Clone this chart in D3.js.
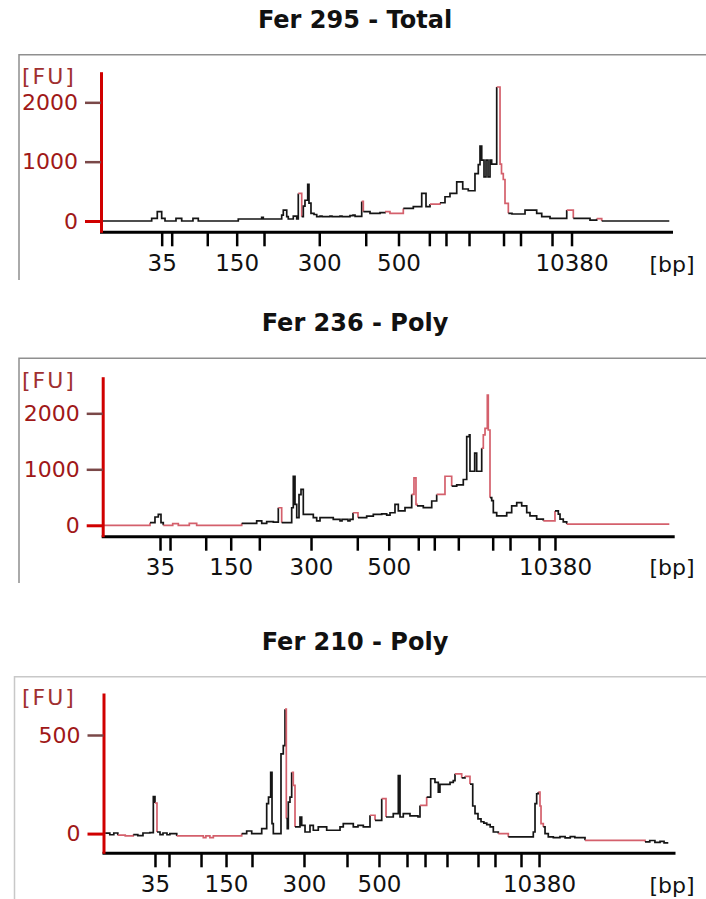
<!DOCTYPE html>
<html>
<head>
<meta charset="utf-8">
<script src="https://cdn.jsdelivr.net/npm/d3@7"></script>
<style>
  body { margin: 0; background: #fff; }
  svg { display: block; font-family: "DejaVu Sans", Verdana, sans-serif; }
</style>
</head>
<body>
<script>
// ladder sizes (bp) and which of them get a label
const ladderBp = [35, 50, 100, 150, 200, 300, 400, 500, 600, 700, 1000, 2000, 3000, 7000, 10380];
const labeledBp = [35, 150, 300, 500, 10380];

const titles = ["Fer 295 - Total", "Fer 236 - Poly", "Fer 210 - Poly"];

// migration position of each ladder band, per run (0-100 scale)
const ladder1 = [10.61, 12.36, 18.58, 23.72, 28.50, 38.16, 46.28, 52.01, 57.40, 60.31, 64.34, 70.37, 73.34, 78.85, 82.26];
const ladder2 = [10.02, 11.77, 18.01, 22.38, 27.38, 36.42, 44.51, 50.00, 55.17, 57.97, 62.17, 68.18, 71.21, 76.28, 79.07];
const ladder3 = [9.00, 11.45, 17.05, 21.42, 25.96, 35.05, 42.57, 48.16, 53.06, 56.21, 60.05, 65.47, 68.44, 72.99, 76.14];

const yTicks1 = [0, 1000, 2000];
const yTicks2 = [0, 1000, 2000];
const yTicks3 = [0, 500];

// Fer 295 - Total
const time1 = [0, 8.86, 9.84, 10.61, 11.19, 13.11, 14.11, 16.08, 17.01, 24.0, 28.09, 28.37, 31.59, 31.87, 32.47, 32.74, 33.62, 34.21, 34.49, 35.09,
  35.37, 35.66, 36.14, 36.36, 36.71, 37.24, 37.71, 38.29, 38.64, 40.03, 40.38, 41.78, 42.13, 43.53, 44.06, 44.41, 45.58, 45.86, 47.03, 48.78,
  49.65, 50.52, 52.85, 54.60, 56.07, 56.82, 57.52, 59.27, 60.14, 61.01, 62.19, 63.24, 64.21, 65.38, 65.96, 66.26, 66.56, 66.96, 67.31, 67.66,
  68.01, 68.30, 69.18, 69.76, 70.02, 70.33, 70.63, 71.21, 71.85, 74.13, 76.17, 77.05, 78.50, 81.42, 82.57, 85.49, 86.66, 87.54, 99.35];
const fu1 = [0, 45, 157, 45, 0, 45, 0, 45, 0, 34, 60, 34, 100, 185, 73, 34, 84, 34, 465, 73,
  250, 350, 616, 300, 130, 110, 73, 84, 73, 84, 73, 84, 73, 90, 101, 80, 330, 157, 130, 140,
  157, 129, 213, 241, 465, 241, 286, 308, 409, 465, 661, 540, 510, 800, 950, 1261, 1025, 745, 1025, 745,
  1025, 958, 2258, 958, 800, 700, 297, 129, 118, 185, 129, 73, 45, 185, 45, 15, 40, 0, 0];
const red1 = [[34.4, 35.0], [45.5, 45.8], [49.6, 52.8], [57.5, 59.2], [69.1, 70.7], [81.4, 82.5], [86.6, 87.5]];

// Fer 236 - Poly
const time2 = [0, 8.27, 9.14, 9.72, 10.19, 10.59, 12.24, 13.22, 15.14, 16.43, 24.30, 26.92, 27.80, 28.67, 29.83, 30.70, 31.29, 33.04, 33.32, 33.62,
  33.92, 34.32, 34.67, 35.07, 36.82, 37.41, 37.99, 40.31, 41.49, 41.84, 42.88, 43.23, 43.76, 44.63, 46.15, 47.31, 48.78, 49.65, 50.23, 51.10,
  51.68, 52.85, 54.02, 54.42, 54.77, 54.95, 56.05, 57.52, 58.39, 59.84, 61.01, 61.89, 63.04, 63.64, 64.09, 64.21, 65.03, 65.38, 66.26, 66.54,
  66.84, 67.24, 67.41, 67.71, 68.01, 68.29, 68.88, 70.33, 70.63, 71.50, 72.38, 73.25, 74.13, 74.70, 75.87, 77.03, 79.07, 79.65, 79.95, 80.52,
  81.12, 99.06];
const fu2 = [0, 47, 148, 195, 47, 0, 30, 0, 35, 0, 35, 77, 35, 65, 55, 313, 47, 313, 876, 372,
  136, 548, 640, 195, 136, 77, 136, 106, 80, 106, 80, 106, 224, 136, 165, 195, 205, 180, 224, 372,
  257, 316, 552, 847, 375, 345, 316, 434, 552, 876, 700, 720, 818, 1584, 1614, 965, 1290, 965, 1378, 1614,
  1732, 2326, 1702, 493, 440, 227, 168, 168, 227, 345, 404, 345, 227, 168, 109, 80, 257, 198, 109, 60,
  21, 21];
const red2 = [[0, 8.2], [10.5, 24.2], [30.6, 31.2], [43.7, 44.6], [54.0, 54.9], [58.3, 60.0], [66.2, 67.5], [77.0, 79.0], [81.1, 100]];

// Fer 210 - Poly
const time3 = [0.3, 1.1, 1.8, 2.5, 3.8, 5.2, 6.0, 6.9, 8.1, 8.71, 9.0, 9.35, 9.88, 10.4, 11.1, 11.6, 12.8, 17.45, 17.9, 18.6,
  19.2, 24.16, 25.03, 25.91, 27.66, 28.53, 28.85, 29.23, 29.46, 29.69, 31.03, 31.43, 31.73, 31.96, 32.13, 32.31, 32.6, 32.9, 33.18, 33.48,
  34.35, 34.65, 35.23, 36.1, 36.68, 37.55, 39.02, 41.35, 41.92, 43.67, 44.49, 45.42, 46.59, 47.47, 48.64, 49.39, 50.66, 51.54, 51.84, 52.41,
  53.58, 54.98, 55.33, 56.5, 57.2, 57.95, 58.53, 58.82, 60.58, 61.15, 61.45, 62.62, 63.2, 64.07, 64.55, 64.95, 65.47, 66.0, 66.5, 67.0,
  67.6, 68.15, 69.02, 70.77, 73.39, 75.14, 75.44, 75.73, 76.01, 76.31, 76.49, 76.89, 77.19, 77.76, 78.64, 79.8, 80.7, 81.6, 82.4, 84.18,
  94.67, 95.5, 96.4, 97.3, 98.0, 98.74];
const fu3 = [2, -6, 3, -8, -12, -5, -10, 3, 5, 188, 155, 8, -5, 3, -6, 0, -12, -20, -12, -20,
  -12, 0, 13, 0, 25, 152, 185, 311, 51, 0, 404, 446, 631, 76, 25, 160, 185, 311, 244, 34,
  84, 42, 8, 42, 17, 34, 17, 34, 51, 34, 42, 34, 93, 67, 177, 84, 101, 294, 84, 101,
  90, 84, 143, 185, 278, 260, 210, 250, 260, 269, 303, 283, 290, 251, 140, 101, 75, 60, 53, 45,
  34, 8, 0, -17, -17, 8, 152, 202, 211, 140, 51, 34, 0, -17, -20, -15, -22, -15, -20, -34,
  -42, -35, -45, -40, -47, -47];
const red3 = [[2.5, 5.0], [9.0, 9.3], [12.8, 24.1], [31.7, 31.9], [32.9, 33.4], [46.5, 47.4], [48.6, 49.3], [55.3, 56.4],
  [61.4, 62.6], [63.2, 64.0], [69.0, 70.7], [76.0, 76.8], [84.1, 94.6]];

// page layout for each panel
const panels = [
  { title: titles[0], ladder: ladder1, yTicks: yTicks1, time: time1, fu: fu1, red: red1,
    titleY: 20, frameTop: 54.7, frameLeft: 19, frameBottom: 280, frameColor: "#8f8f8f",
    xRange: [101, 673], axisY: 232.3, axisTop: 71.7, yDomain: [-190, 2516], fuY: 76.7, labelY: 264 },
  { title: titles[1], ladder: ladder2, yTicks: yTicks2, time: time2, fu: fu2, red: red2,
    titleY: 323, frameTop: 358.3, frameLeft: 19, frameBottom: 583, frameColor: "#8f8f8f",
    xRange: [102.7, 674.7], axisY: 536.7, axisTop: 376.7, yDomain: [-204, 2654], fuY: 380, labelY: 567.5 },
  { title: titles[2], ladder: ladder3, yTicks: yTicks3, time: time3, fu: fu3, red: red3,
    titleY: 642, frameTop: 676.7, frameLeft: 14.5, frameBottom: 899, frameColor: "#c8c8c8",
    xRange: [103.5, 675.5], axisY: 853.3, axisTop: 693, yDomain: [-100, 713], fuY: 697.3, labelY: 885 }
];

const W = 706, H = 899;
const svg = d3.select("body").append("svg").attr("width", W).attr("height", H);

const redColor = "#d4606c";

panels.forEach(function(p) {
  let x = d3.scaleLinear().domain([0, 100]).range(p.xRange);
  let y = d3.scaleLinear().domain(p.yDomain).range([p.axisY, p.axisTop]);
  let g = svg.append("g");

  // frame
  g.append("path")
   .attr("d", `M${p.frameLeft},${p.frameBottom}V${p.frameTop}H${W}`)
   .attr("fill", "none")
   .attr("stroke", p.frameColor)
   .attr("stroke-width", 1.5);

  g.append("text")
   .attr("x", 355).attr("y", p.titleY)
   .attr("text-anchor", "middle").attr("dominant-baseline", "central")
   .attr("font-weight", "bold").attr("font-size", 24)
   .attr("fill", "#111")
   .text(p.title);

  // x axis (ladder)
  let xAxis = d3.axisBottom(x)
    .tickValues(p.ladder)
    .tickSize(14)
    .tickSizeOuter(0)
    .tickPadding(p.labelY - p.axisY - 23)
    .tickFormat((d, i) => labeledBp.includes(ladderBp[i]) ? ladderBp[i] : "");
  let xg = g.append("g").attr("transform", `translate(0,${p.axisY})`).call(xAxis);
  xg.select(".domain").attr("stroke", "#000").attr("stroke-width", 3)
    .attr("d", `M${p.xRange[0] - 1},0H${p.xRange[1]}`);
  xg.selectAll(".tick line").attr("stroke", "#000").attr("stroke-width", 2.5);
  xg.selectAll(".tick text").attr("font-size", 23).attr("fill", "#111")
    .attr("font-family", "DejaVu Sans, Verdana, sans-serif");

  g.append("text")
   .attr("x", 672).attr("y", p.labelY)
   .attr("text-anchor", "middle").attr("dominant-baseline", "central")
   .attr("font-size", 22).attr("fill", "#111")
   .text("[bp]");

  // trace, split into black and red runs
  let pts = p.time.map((t, i) => [t, p.fu[i]]);
  let isRed = t => p.red.some(r => t >= r[0] && t < r[1]);
  let line = d3.line().x(d => x(d[0])).y(d => y(d[1])).curve(d3.curveStepAfter);
  let runs = [];
  let start = 0;
  for (let i = 1; i < pts.length; i++) {
    if (i == pts.length - 1 || isRed(pts[i][0]) != isRed(pts[start][0])) {
      runs.push({ red: isRed(pts[start][0]), pts: pts.slice(start, i + 1) });
      start = i;
    }
  }
  runs.forEach(function(r) {
    g.append("path")
     .attr("d", line(r.pts))
     .attr("fill", "none")
     .attr("stroke", r.red ? redColor : "#151515")
     .attr("stroke-width", 1.7);
  });

  // y axis
  let yAxis = d3.axisLeft(y)
    .tickValues(p.yTicks)
    .tickFormat(d3.format("d"))
    .tickSize(16)
    .tickSizeOuter(0)
    .tickPadding(7);
  let yg = g.append("g").attr("transform", `translate(${p.xRange[0]},0)`).call(yAxis);
  yg.select(".domain").attr("stroke", "#d00000").attr("stroke-width", 3);
  yg.selectAll(".tick line").attr("stroke", d => d == 0 ? "#d00000" : "#7a4848").attr("stroke-width", d => d == 0 ? 3 : 2.5);
  yg.selectAll(".tick text").attr("font-size", 22).attr("fill", "#a01818")
    .attr("font-family", "DejaVu Sans, Verdana, sans-serif");

  g.append("text")
   .attr("x", 22).attr("y", p.fuY)
   .attr("dominant-baseline", "central")
   .attr("font-size", 22).attr("letter-spacing", 2)
   .attr("fill", "#a03030")
   .text("[FU]");
});
</script>
</body>
</html>
